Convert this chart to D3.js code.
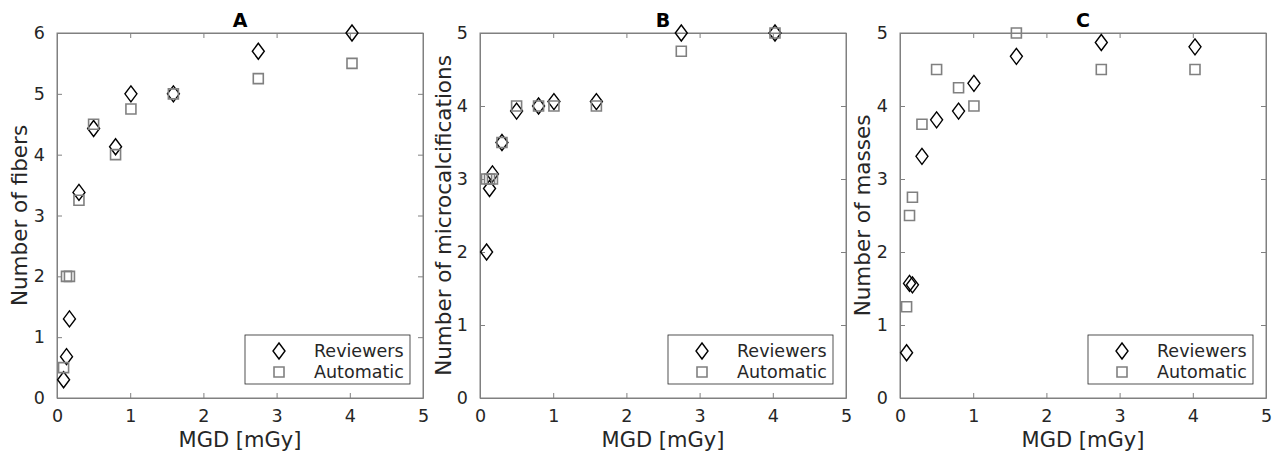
<!DOCTYPE html>
<html>
<head>
<meta charset="utf-8">
<script src="https://cdn.jsdelivr.net/npm/d3@7"></script>
<style>
  body { margin: 0; background: #fff; }
  svg { font-family: "DejaVu Sans", sans-serif; }
</style>
</head>
<body>
<div id="chart"></div>
<script>
var dose = [0.09, 0.13, 0.17, 0.30, 0.50, 0.80, 1.01, 1.59, 2.75, 4.03];

var fibersReviewers = [0.30, 0.68, 1.30, 3.38, 4.43, 4.13, 5.00, 5.00, 5.70, 6.00];
var fibersAutomatic = [0.50, 2.00, 2.00, 3.25, 4.50, 4.00, 4.75, 5.00, 5.25, 5.50];

var microReviewers = [2.00, 2.87, 3.07, 3.50, 3.93, 4.00, 4.06, 4.06, 5.00, 5.00];
var microAutomatic = [3.00, 3.00, 3.00, 3.50, 4.00, 4.00, 4.00, 4.00, 4.75, 5.00];

var massesReviewers = [0.62, 1.57, 1.55, 3.31, 3.81, 3.93, 4.31, 4.68, 4.87, 4.81];
var massesAutomatic = [1.25, 2.50, 2.75, 3.75, 4.50, 4.25, 4.00, 5.00, 4.50, 4.50];

var titles = ["A", "B", "C"];
var yLabels = ["Number of fibers", "Number of microcalcifications", "Number of masses"];
var yMax = [6, 5, 5];
var xTicks = [0, 1, 2, 3, 4, 5];
var legendLabels = ["Reviewers", "Automatic"];

var W = 1279, H = 459;
var svg = d3.select("#chart").append("svg")
  .attr("width", W)
  .attr("height", H);

var panels = [
  { left: 57, right: 423, rev: fibersReviewers, auto: fibersAutomatic, ylabX: 19 },
  { left: 480, right: 846, rev: microReviewers, auto: microAutomatic, ylabX: 443 },
  { left: 900, right: 1266, rev: massesReviewers, auto: massesAutomatic, ylabX: 862 }
];
var plotTop = 33, plotBottom = 398;
var axisColor = "#808080", textColor = "#262626";

// diamond marker, a bit taller than wide
function diamond(cx, cy) {
  var hw = 6, hh = 8;
  return "M" + cx + "," + (cy - hh) + "L" + (cx + hw) + "," + cy +
         "L" + cx + "," + (cy + hh) + "L" + (cx - hw) + "," + cy + "Z";
}
function square(cx, cy) {
  var s = 5;
  return "M" + (cx - s) + "," + (cy - s) + "h" + (2 * s) + "v" + (2 * s) + "h" + (-2 * s) + "Z";
}

panels.forEach(function(p, k) {
  var x = d3.scaleLinear().domain([0, 5]).range([p.left, p.right]);
  var y = d3.scaleLinear().domain([0, yMax[k]]).range([plotBottom, plotTop]);
  var g = svg.append("g");
  var fmt = d3.format("d");

  // box
  g.append("rect")
    .attr("x", p.left).attr("y", plotTop)
    .attr("width", p.right - p.left).attr("height", plotBottom - plotTop)
    .attr("fill", "none").attr("stroke", axisColor).attr("stroke-width", 1);

  // axes (inward ticks)
  var xb = g.append("g").attr("transform", "translate(0," + plotBottom + ")")
    .call(d3.axisBottom(x).tickValues(xTicks).tickFormat(fmt).tickSizeInner(-5).tickSizeOuter(0).tickPadding(12));
  var xt = g.append("g").attr("transform", "translate(0," + plotTop + ")")
    .call(d3.axisTop(x).tickValues(xTicks).tickSizeInner(-5).tickSizeOuter(0).tickFormat(""));
  var yl = g.append("g").attr("transform", "translate(" + p.left + ",0)")
    .call(d3.axisLeft(y).ticks(yMax[k]).tickFormat(fmt).tickSizeInner(-5).tickSizeOuter(0).tickPadding(12));
  var yr = g.append("g").attr("transform", "translate(" + p.right + ",0)")
    .call(d3.axisRight(y).ticks(yMax[k]).tickSizeInner(-5).tickSizeOuter(0).tickFormat(""));

  [xb, xt, yl, yr].forEach(function(a) {
    a.select(".domain").attr("stroke", axisColor);
    a.selectAll(".tick line").attr("stroke", axisColor);
    a.selectAll(".tick text")
      .attr("fill", textColor)
      .attr("font-size", "17.5px")
      .attr("font-family", "DejaVu Sans, sans-serif");
  });

  // labels
  g.append("text")
    .attr("x", (p.left + p.right) / 2).attr("y", 447)
    .attr("text-anchor", "middle")
    .attr("font-size", "21px").attr("fill", textColor)
    .text("MGD [mGy]");

  g.append("text")
    .attr("transform", "translate(" + p.ylabX + "," + ((plotTop + plotBottom) / 2) + ") rotate(-90)")
    .attr("text-anchor", "middle")
    .attr("dominant-baseline", "central")
    .attr("font-size", "21.5px").attr("fill", textColor)
    .text(yLabels[k]);

  g.append("text")
    .attr("x", (p.left + p.right) / 2).attr("y", 27)
    .attr("text-anchor", "middle")
    .attr("font-size", "19px").attr("font-weight", "bold").attr("fill", "#000")
    .text(titles[k]);

  // markers
  g.selectAll(".rev")
    .data(p.rev)
    .enter()
    .append("path")
    .attr("class", "rev")
    .attr("d", function(d, i) { return diamond(x(dose[i]), y(d)); })
    .attr("fill", "none")
    .attr("stroke", "#000")
    .attr("stroke-width", 1.4);

  g.selectAll(".auto")
    .data(p.auto)
    .enter()
    .append("path")
    .attr("class", "auto")
    .attr("d", function(d, i) { return square(x(dose[i]), y(d)); })
    .attr("fill", "none")
    .attr("stroke", "#808080")
    .attr("stroke-width", 1.6);

  // legend
  var lx = p.right - 178, ly = 335;
  var leg = g.append("g");
  leg.append("rect")
    .attr("x", lx).attr("y", ly)
    .attr("width", 165).attr("height", 49)
    .attr("fill", "#fff").attr("stroke", textColor).attr("stroke-width", 0.8);
  leg.append("path")
    .attr("d", diamond(lx + 34, ly + 16))
    .attr("fill", "none").attr("stroke", "#000").attr("stroke-width", 1.4);
  leg.append("path")
    .attr("d", square(lx + 34, ly + 37))
    .attr("fill", "none").attr("stroke", "#808080").attr("stroke-width", 1.6);
  legendLabels.forEach(function(t, j) {
    leg.append("text")
      .attr("x", lx + 69).attr("y", ly + 16 + j * 21)
      .attr("dominant-baseline", "central")
      .attr("font-size", "17.5px").attr("fill", textColor)
      .text(t);
  });
});
</script>
</body>
</html>
